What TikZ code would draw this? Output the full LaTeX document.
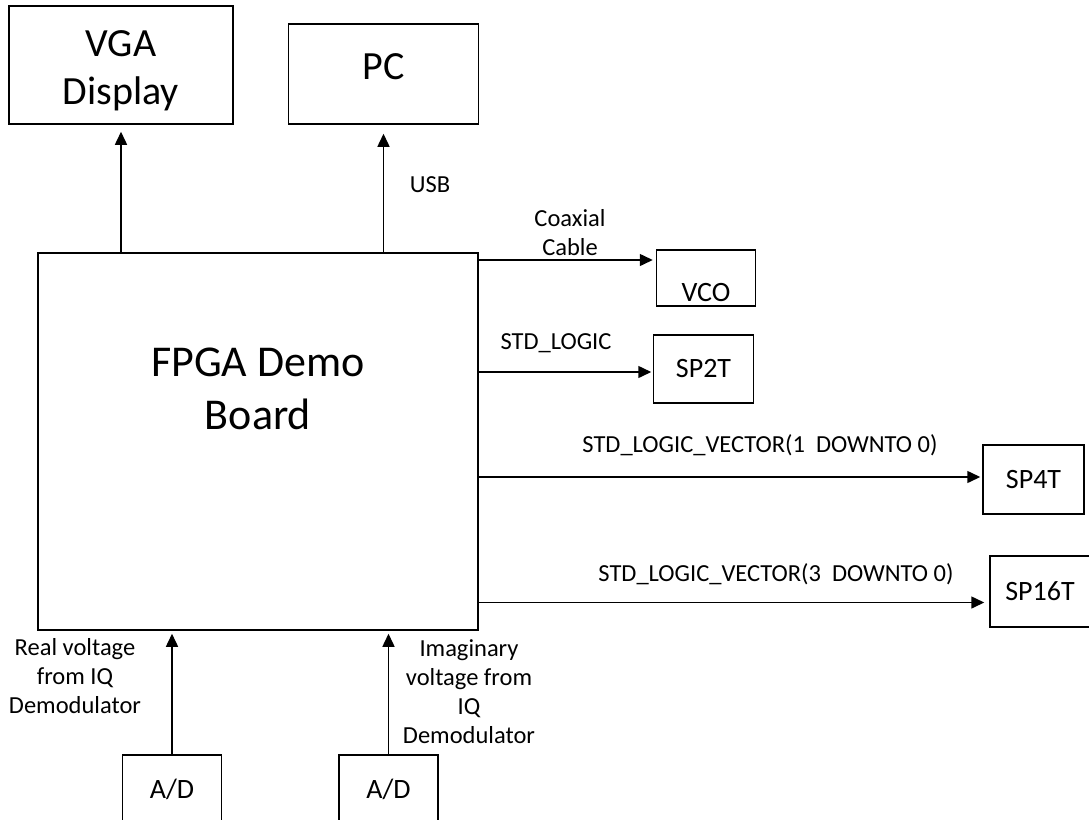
\documentclass[tikz,border=0pt]{standalone}
\usepackage{fontspec}
\setmainfont{Carlito}
\usetikzlibrary{arrows.meta, positioning, calc}

\newcommand{\blkfont}{\fontsize{28}{34}\selectfont}
\newcommand{\bigfont}{\fontsize{40}{48}\selectfont}

\begin{document}
\begin{tikzpicture}[
        x=1pt, y=-1pt,
        blk/.style={rectangle, draw, line width=1.5pt, inner sep=0pt, align=center},
        sml/.style={blk, font=\blkfont},
        lbl/.style={align=center, inner sep=0pt, font=\fontsize{24.5}{29}\selectfont},
        arr/.style={-{Triangle[length=13pt, width=12pt]}, line width=1.5pt}
    ]
        \useasboundingbox (0,0) rectangle (1089,819);

        % Main board
        \node[blk, minimum width=440pt, minimum height=377pt,
              label={[font=\fontsize{44}{53}\selectfont, align=center, yshift=53pt]center:FPGA Demo\\Board}]
              (fpga) at (258,441.5) {};

        % Top blocks
        \node[blk, minimum width=224pt, minimum height=118pt,
              label={[font=\bigfont, align=center, yshift=-6pt]center:VGA\\Display}] (vga) at (121,65) {};
        \node[blk, minimum width=190pt, minimum height=100pt,
              label={[font=\bigfont, yshift=7pt]center:PC}] (pc) at (383.5,74) {};

        % Right blocks
        \node[sml, minimum width=99pt, minimum height=56pt,
              label={[font=\blkfont, anchor=base, yshift=5pt]south:VCO}] (vco) at (706,278) {};
        \node[sml, minimum width=100pt, minimum height=68pt] (sp2t) at (703.5,369) {SP2T};
        \node[sml, minimum width=101pt, minimum height=69pt] (sp4t) at (1033.5,479.5) {SP4T};
        \node[sml, minimum width=100pt, minimum height=71pt] (sp16t) at (1040,591.5) {SP16T};

        % A/D converters
        \node[sml, minimum width=99pt, minimum height=68pt] (adre) at (172,789) {A/D};
        \node[sml, minimum width=99pt, minimum height=68pt] (adim) at (388.5,789) {A/D};

        % Connection labels
        \node[lbl] (usb) at (430,185) {USB};
        \node[lbl] (coax) at (570,232.5) {Coaxial\\Cable};
        \node[lbl] (stdl) at (556,343) {STD\_LOGIC};
        \node[lbl] (vec1) at (760,445) {STD\_LOGIC\_VECTOR(1\ \ DOWNTO 0)};
        \node[lbl] (vec2) at (776,574) {STD\_LOGIC\_VECTOR(3\ \ DOWNTO 0)};
        \node[lbl] (relbl) at (75,676) {Real voltage\\from IQ\\Demodulator};
        \node[lbl] (imlbl) at (469,692) {Imaginary\\voltage from\\IQ\\Demodulator};

        % Arrow entry points
        \coordinate (vcoin) at ([yshift=18pt]vco.west);
        \coordinate (sp2tin) at ([yshift=-3pt]sp2t.west);
        \coordinate (sp4tin) at ([yshift=2.5pt]sp4t.west);
        \coordinate (sp16tin) at ([yshift=-11pt]sp16t.west);

        % Board to top
        \draw[arr, shorten >=7pt] (fpga.north -| vga.south) -- (vga.south);
        \draw[arr, shorten >=9pt] (fpga.north -| pc.south) -- (pc.south);

        % Board to switches
        \draw[arr, shorten >=3pt] (fpga.east |- vcoin) -- (vcoin);
        \draw[arr, shorten >=1.5pt] (fpga.east |- sp2tin) -- (sp2tin);
        \draw[arr, shorten >=2pt] (fpga.east |- sp4tin) -- (sp4tin);
        \draw[arr, shorten >=5pt] (fpga.east |- sp16tin) -- (sp16tin);

        % A/D to board
        \draw[arr, shorten >=3pt] (adre.north) -- (adre.north |- fpga.south);
        \draw[arr, shorten >=3pt] (adim.north) -- (adim.north |- fpga.south);
\end{tikzpicture}
\end{document}
